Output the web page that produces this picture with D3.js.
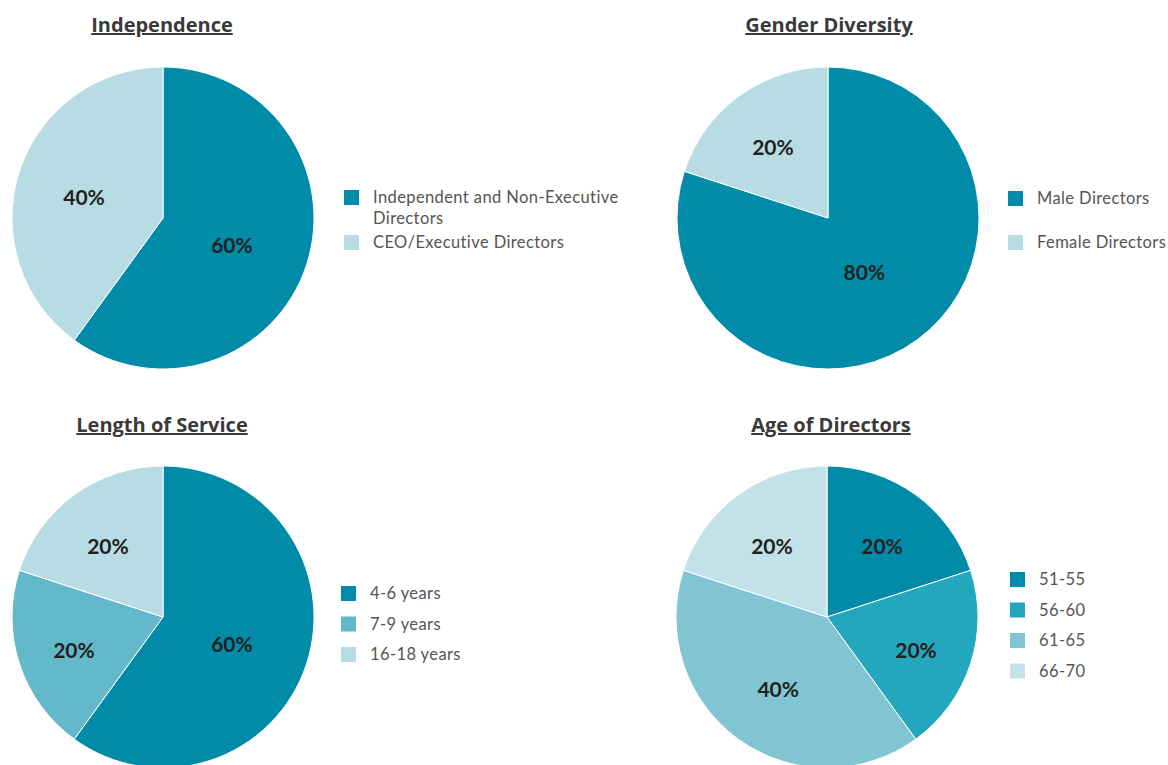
<!DOCTYPE html>
<html><head><meta charset="utf-8">
<script src="https://cdn.jsdelivr.net/npm/d3@7"></script>
<style>
body{margin:0;background:#fff;}
svg{display:block;}
</style></head>
<body>
<svg id="chart" width="1168" height="765"></svg>
<script>
// Data
const independenceLabels = ["Independent and Non-Executive Directors", "CEO/Executive Directors"];
const independenceValues = [60, 40];
const genderLabels = ["Male Directors", "Female Directors"];
const genderValues = [80, 20];
const serviceLabels = ["4-6 years", "7-9 years", "16-18 years"];
const serviceValues = [60, 20, 20];
const ageLabels = ["51-55", "56-60", "61-65", "66-70"];
const ageValues = [20, 20, 40, 20];
const chartTitles = ["Independence", "Gender Diversity", "Length of Service", "Age of Directors"];

const C_DARK = "#008BA8", C_LIGHT = "#B8DCE4";
const panels = [
  {title: chartTitles[0], labels: independenceLabels, values: independenceValues, colors: [C_DARK, C_LIGHT],
   cx: 163, cy: 218, titleX: 162, titleY: 32, legX: 344, legY: 190, legStep: 45, wrap: [["Independent and Non-Executive","Directors"],["CEO/Executive Directors"]]},
  {title: chartTitles[1], labels: genderLabels, values: genderValues, colors: [C_DARK, C_LIGHT],
   cx: 828, cy: 218, titleX: 829, titleY: 32, legX: 1008, legY: 191, legStep: 44},
  {title: chartTitles[2], labels: serviceLabels, values: serviceValues, colors: [C_DARK, "#63B8CA", C_LIGHT],
   cx: 163, cy: 617, titleX: 162, titleY: 432, legX: 341, legY: 586, legStep: 30.5},
  {title: chartTitles[3], labels: ageLabels, values: ageValues, colors: [C_DARK, "#22A7BC", "#81C4D2", "#C2E1E8"],
   cx: 827, cy: 617, titleX: 831, titleY: 432, legX: 1010, legY: 572, legStep: 30.5}
];
const R = 151;
const svg = d3.select("#chart");
const pie = d3.pie().sort(null).value(d => d);
const arc = d3.arc().innerRadius(0).outerRadius(R);

panels.forEach(p => {
  const total = d3.sum(p.values);
  const g = svg.append("g").attr("transform", `translate(${p.cx},${p.cy})`);
  const arcs = pie(p.values);
  g.selectAll("path").data(arcs).join("path")
    .attr("d", arc)
    .attr("fill", (d,i) => p.colors[i])
    .attr("stroke", "#fff").attr("stroke-width", 1);
  g.selectAll("text").data(arcs).join("text")
    .attr("transform", d => {
      const frac = d.value / total;
      const lr = R * (0.62 - 0.35 * (frac - 0.2));
      const c = d3.arc().innerRadius(lr).outerRadius(lr).centroid(d);
      return `translate(${c[0]},${c[1] + 5})`;
    })
    .attr("text-anchor", "middle").attr("dy", "0.35em")
    .attr("font-family", "Lato, sans-serif").attr("font-weight", 700)
    .attr("font-size", 21).attr("fill", "#231f20")
    .text(d => Math.round(d.value / total * 100) + "%");

  // title
  svg.append("text")
    .attr("x", p.titleX).attr("y", p.titleY)
    .attr("text-anchor", "middle")
    .attr("font-family", "'Open Sans', sans-serif").attr("font-weight", 700)
    .attr("font-size", 20).attr("fill", "#3a3a3a")
    .attr("text-decoration", "underline")
    .text(p.title);

  // legend
  const lg = svg.append("g");
  p.labels.forEach((lab, i) => {
    const y = p.legY + i * p.legStep;
    lg.append("rect").attr("x", p.legX).attr("y", y).attr("width", 15).attr("height", 15)
      .attr("fill", p.colors[i]);
    const lines = p.wrap ? p.wrap[i] : [lab];
    const tx = lg.append("text").attr("x", p.legX + 29).attr("y", y + 7.5)
      .attr("font-family", "Lato, sans-serif").attr("font-weight", 400)
      .attr("font-size", 16.5).attr("letter-spacing", 0.4).attr("fill", "#555");
    lines.forEach((ln, j) => {
      tx.append("tspan").attr("x", p.legX + 29).attr("dy", j === 0 ? "0.35em" : "1.25em").text(ln);
    });
  });
});
</script>
</body></html>
